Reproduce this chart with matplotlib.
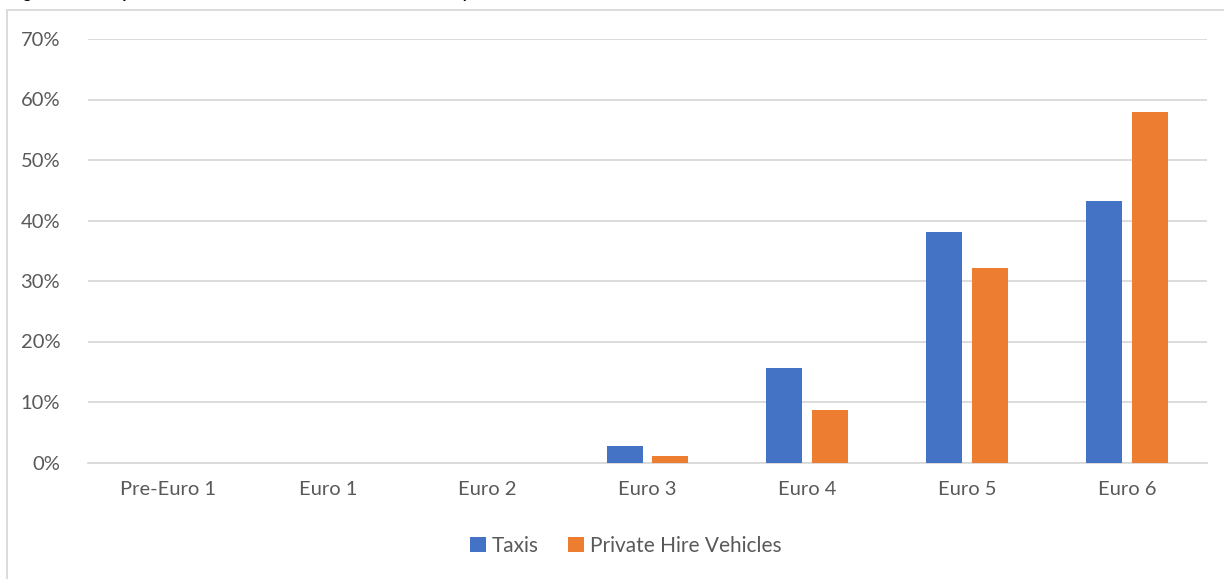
import matplotlib
matplotlib.use("Agg")
import matplotlib.pyplot as plt
import numpy as np
from matplotlib.patches import Rectangle
from matplotlib.ticker import FuncFormatter, MultipleLocator

categories = ["Pre-Euro 1", "Euro 1", "Euro 2", "Euro 3", "Euro 4", "Euro 5", "Euro 6"]
taxis = [0.0, 0.0, 0.0, 2.8, 15.6, 38.1, 43.2]
phv = [0.0, 0.0, 0.0, 1.0, 8.6, 32.1, 57.9]
series_names = ["Taxis", "Private Hire Vehicles"]
colors = ["#4472C4", "#ED7D31"]
title = "Figure 4: Euro Specification of Taxis and Private Hire Vehicles by Euro Standard"

plt.rcParams['font.family'] = ['Lato', 'DejaVu Sans']
W, H = 1224, 579
fig = plt.figure(figsize=(W / 100, H / 100), dpi=100)

# chart border
fig.patches.append(Rectangle((7 / W, -0.05), 1.2, 1 - 10 / H + 0.05, transform=fig.transFigure,
                             fill=False, edgecolor="#d9d9d9", linewidth=1.3))
# title sits above the visible area; only its descenders show at the top edge
fig.text(10 / W, 1 + 2 / H, title, fontsize=11.5, fontweight="bold", color="black",
         ha="left", va="baseline")

ax = fig.add_axes([88 / W, 1 - 462.5 / H, (1207 - 88) / W, (462.5 - 39) / H])
x = np.arange(len(categories))
bw = 0.225
gap = 0.0625
off = (bw + gap) / 2
ax.bar(x - off, taxis, bw, color=colors[0], label=series_names[0], zorder=3)
ax.bar(x + off, phv, bw, color=colors[1], label=series_names[1], zorder=3)

ax.set_xlim(-0.5, len(categories) - 0.5)
ax.set_ylim(0, 70)
ax.yaxis.set_major_locator(MultipleLocator(10))
ax.yaxis.set_major_formatter(FuncFormatter(lambda v, p: f"{v:.0f}%"))
ax.grid(axis="y", color="#d9d9d9", linewidth=1.3, zorder=0)
ax.set_axisbelow(True)
for s in ["top", "right", "left"]:
    ax.spines[s].set_visible(False)
ax.spines["bottom"].set_color("#d9d9d9")
ax.spines["bottom"].set_linewidth(1.3)
ax.set_xticks(x)
ax.set_xticklabels(categories)
ax.tick_params(axis="both", length=0, colors="#595959", labelsize=14.5)
ax.tick_params(axis="x", pad=13)
ax.tick_params(axis="y", pad=20)

leg = fig.legend(loc="center", bbox_to_anchor=(626 / W, 1 - 546 / H), ncol=2, frameon=False,
                 fontsize=15, handlelength=0.75, handleheight=0.75, handletextpad=0.3,
                 columnspacing=1.4, labelcolor="#595959")

fig.savefig("out.png", dpi=100)
